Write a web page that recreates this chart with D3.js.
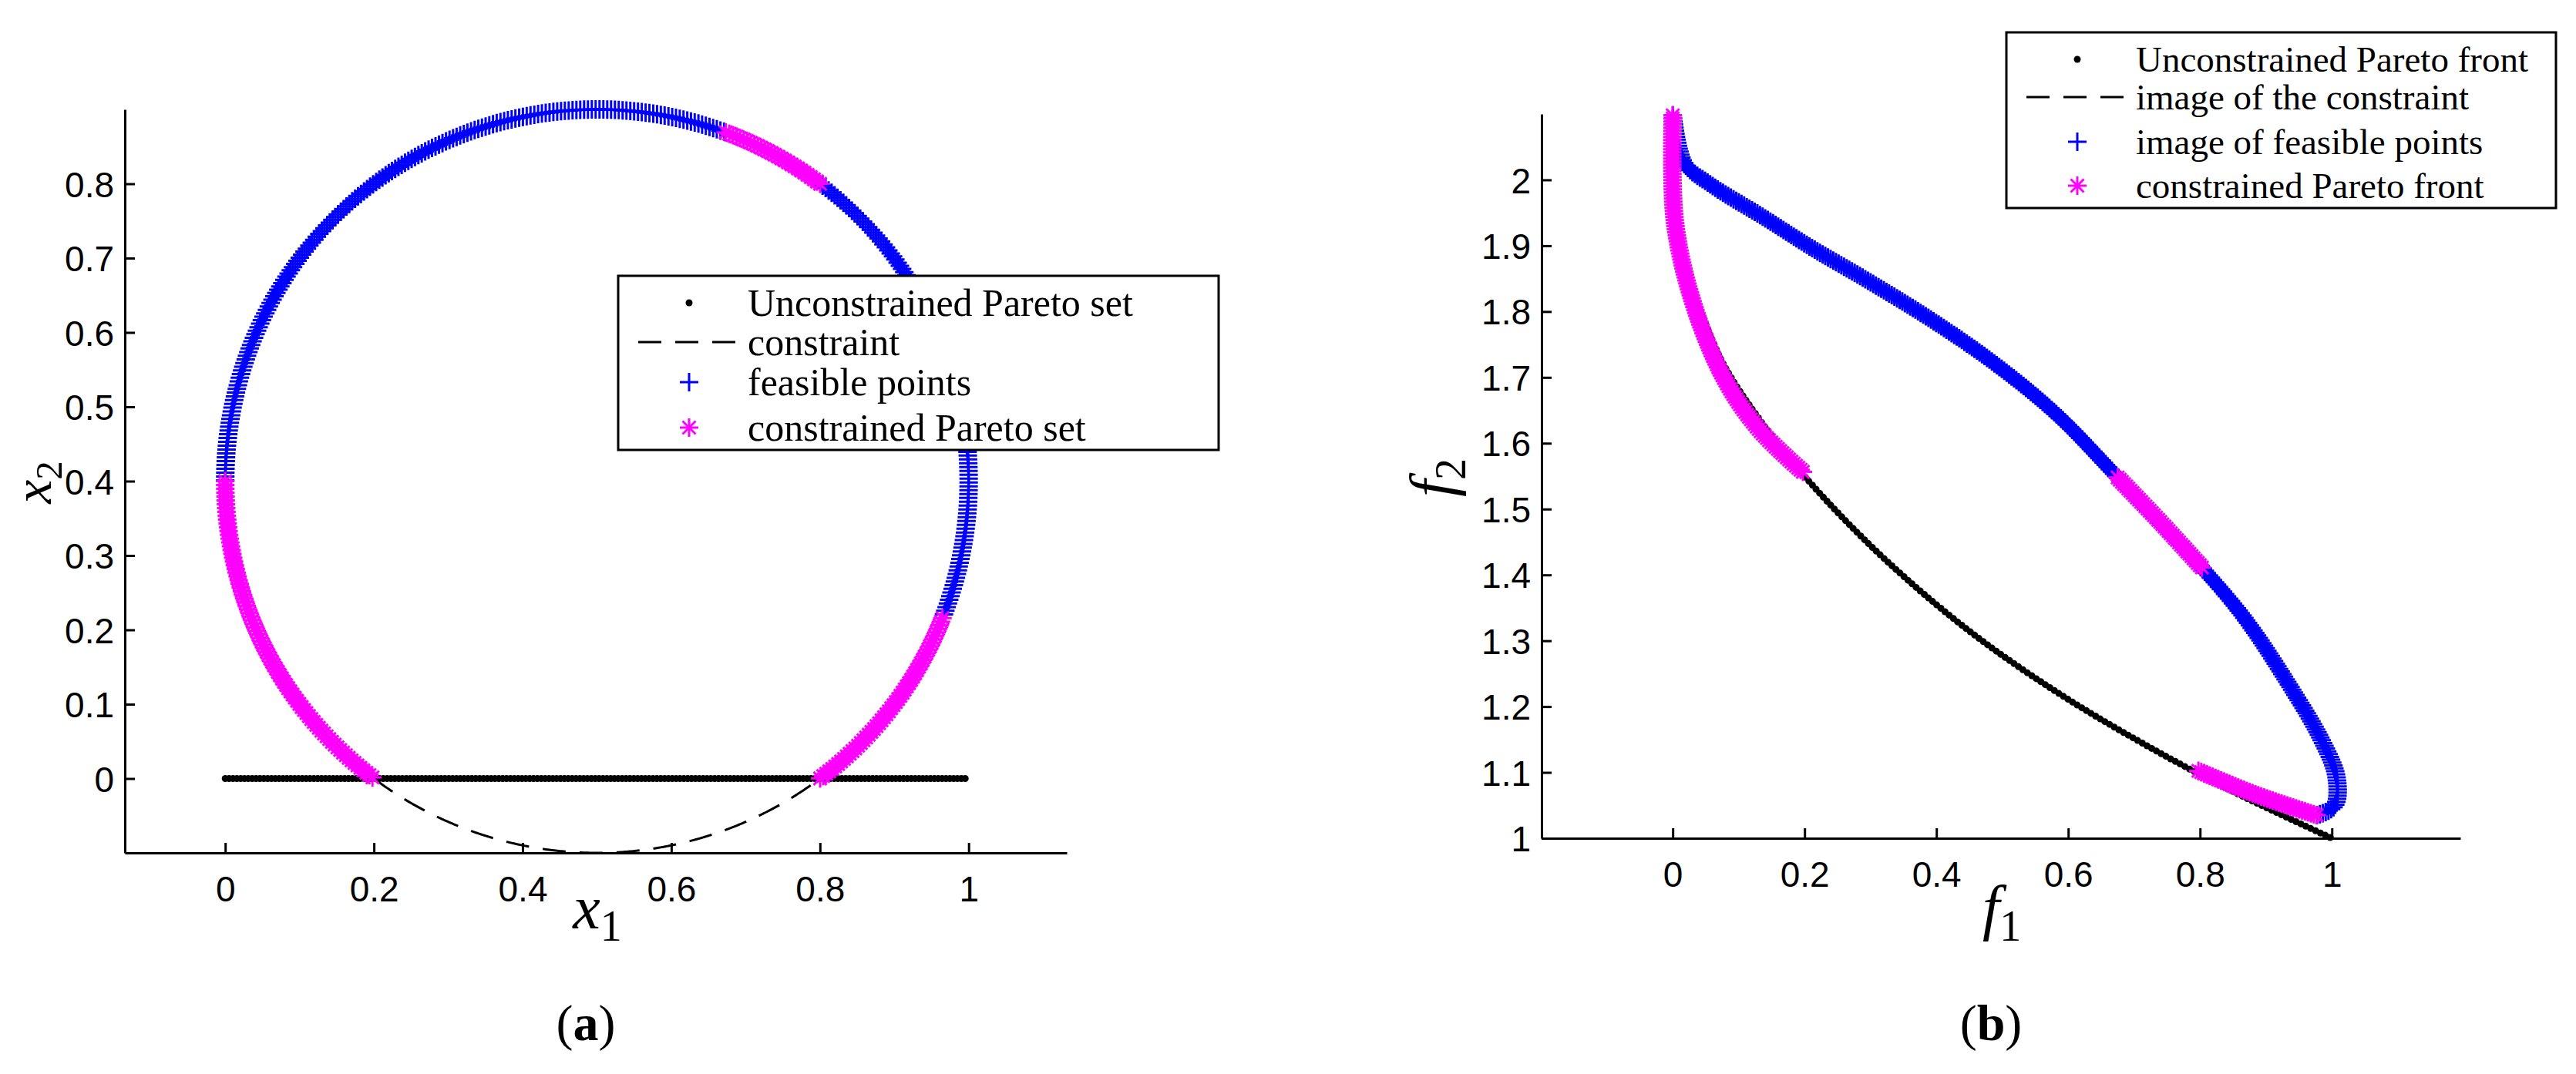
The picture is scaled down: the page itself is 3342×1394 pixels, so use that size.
<!DOCTYPE html>
<html>
<head>
<meta charset="utf-8">
<script src="https://cdn.jsdelivr.net/npm/d3@7"></script>
<style>
body{margin:0;background:#fff;}
.tick text{font-family:"Liberation Sans Narrow","Liberation Sans",Arial,sans-serif;font-size:46px;fill:#000;}
.lg{font-family:"Liberation Serif","DejaVu Serif",serif;font-size:50px;}
#legB .lg{font-size:47px;}
</style>
</head>
<body>
<svg id="fig" width="3342" height="1394"></svg>
<script>
// ---- panel (a): circle constraint, arcs given in degrees ----
var circleCenter = [0.5, 0.4], circleRadius = 0.5;
var feasibleArcs = [[339, 413.1], [70, 180]];
var paretoSetArcs = [[180, 233.1], [306.9, 339], [53.1, 70]];
var constraintArc = [233.1, 306.9];
var unconstrainedSetX = [0, 1], unconstrainedSetY = 0;
var xTicksA = [0, 0.2, 0.4, 0.6, 0.8, 1];
var yTicksA = [0, 0.1, 0.2, 0.3, 0.4, 0.5, 0.6, 0.7, 0.8];

// ---- panel (b): images ----
var frontF1 = [0, 0.003, 0.017, 0.03, 0.077, 0.131, 0.198, 0.312, 0.447, 0.581, 0.715, 0.85, 1];
var frontF2 = [2.0, 1.917, 1.845, 1.826, 1.72, 1.637, 1.552, 1.433, 1.317, 1.223, 1.143, 1.071, 1.0];
var feasF1 = [0, 0.017, 0.057, 0.138, 0.212, 0.299, 0.393, 0.487, 0.581, 0.675, 0.803, 0.87, 0.937, 0.984, 1.007, 1.004, 0.977];
var feasF2 = [2.098, 2.026, 1.993, 1.943, 1.896, 1.845, 1.787, 1.722, 1.645, 1.548, 1.411, 1.331, 1.23, 1.15, 1.093, 1.049, 1.035];
var cpfLeftF1 = [0, 0.003, 0.03, 0.077, 0.131, 0.198];
var cpfLeftF2 = [2.098, 1.939, 1.816, 1.70, 1.621, 1.556];
var cpfMidF1 = [0.675, 0.74, 0.803];
var cpfMidF2 = [1.548, 1.48, 1.411];
var cpfLowF1 = [0.977, 0.883, 0.796];
var cpfLowF2 = [1.035, 1.067, 1.103];
var xTicksB = [0, 0.2, 0.4, 0.6, 0.8, 1];
var yTicksB = [1, 1.1, 1.2, 1.3, 1.4, 1.5, 1.6, 1.7, 1.8, 1.9, 2];

var svg = d3.select("#fig");
var BLUE = "#0000ff", MAG = "#ff00ff";

function star(g, x, y){
	var r = 12;
	[0, 45, 90, 135].forEach(function(a){
		var c = Math.cos(a*Math.PI/180)*r, s = Math.sin(a*Math.PI/180)*r;
		g.append("line").attr("x1", x-c).attr("y1", y-s).attr("x2", x+c).attr("y2", y+s)
			.attr("stroke", MAG).attr("stroke-width", 3);
	});
}
function plus(g, x, y){
	var r = 12;
	g.append("path").attr("d", "M"+(x-r)+","+y+"h"+(2*r)+"M"+x+","+(y-r)+"v"+(2*r))
		.attr("stroke", BLUE).attr("stroke-width", 3);
}
function dot(g, x, y){
	g.append("circle").attr("cx", x).attr("cy", y).attr("r", 4.5).attr("fill", "#000");
}

function axes(g, x, y, xt, yt){
	var h = y.range()[0];
	g.append("g").attr("transform", "translate(0,"+h+")")
		.call(d3.axisBottom(x).tickValues(xt).tickSizeInner(-13).tickSizeOuter(0).tickPadding(30).tickFormat(d3.format("")))
		.call(function(s){ s.selectAll("path,line").attr("stroke-width", 3); s.selectAll("text").attr("dy","0.71em"); });
	g.append("g").attr("transform", "translate("+x.range()[0]+",0)")
		.call(d3.axisLeft(y).tickValues(yt).tickSizeInner(-13).tickSizeOuter(0).tickPadding(14).tickFormat(d3.format("")))
		.call(function(s){ s.selectAll("path,line").attr("stroke-width", 3); s.selectAll("text").attr("dy","0.36em"); });
}

function sampleAlong(g, d, step, fn){
	var p = g.append("path").attr("d", d).attr("fill", "none");
	var L = p.node().getTotalLength();
	var pts = d3.range(0, L + 0.001, step).map(function(l){ return p.node().getPointAtLength(Math.min(l, L)); });
	p.remove();
	pts.forEach(function(q){ fn(g, q.x, q.y); });
}

function legend(g, id, x0, y0, w, h, rows, labels){
	g = g.append("g").attr("id", id);
	g.append("rect").attr("x", x0).attr("y", y0).attr("width", w).attr("height", h)
		.attr("fill", "#fff").attr("stroke", "#000").attr("stroke-width", 3);
	var mx = x0 + 92, tx = x0 + 168;
	rows.forEach(function(ry, i){
		var yy = y0 + ry;
		if(i == 0) dot(g, mx, yy);
		if(i == 1) g.append("line").attr("x1", x0+26).attr("x2", x0+158).attr("y1", yy).attr("y2", yy)
			.attr("stroke", "#000").attr("stroke-width", 3).attr("stroke-dasharray", "30,18");
		if(i == 2) plus(g, mx, yy);
		if(i == 3) star(g, mx, yy);
		g.append("text").attr("class", "lg").attr("x", tx).attr("y", yy).attr("dy", "0.33em").text(labels[i]);
	});
}

function mathLabel(g, x, y, base, sub, rot, fs){
	var t = g.append("text").attr("transform", "translate("+x+","+y+")"+(rot ? " rotate(-90)" : ""))
		.attr("text-anchor", "middle").attr("font-family", "Liberation Serif, DejaVu Serif, serif").attr("font-size", fs);
	t.append("tspan").attr("font-style", "italic").text(base);
	t.append("tspan").attr("font-size", fs*0.7).attr("dy", fs*0.2).text(sub);
}

// ---------- panel (a) ----------
var xa = d3.scaleLinear().domain([-0.135, 1.132]).range([162, 1384]);
var ya = d3.scaleLinear().domain([-0.1, 0.9]).range([1107, 142]);
var ga = svg.append("g");
axes(ga, xa, ya, xTicksA, yTicksA);

function arcPath(a){
	var pts = d3.range(a[0], a[1] + 0.001, 0.25).map(function(t){
		var r = t*Math.PI/180;
		return [xa(circleCenter[0] + circleRadius*Math.cos(r)), ya(circleCenter[1] + circleRadius*Math.sin(r))];
	});
	return d3.line()(pts);
}
ga.append("path").attr("d", arcPath(constraintArc)).attr("fill", "none").attr("stroke", "#000")
	.attr("stroke-width", 3).attr("stroke-dasharray", "30,18");
sampleAlong(ga, d3.line()([[xa(unconstrainedSetX[0]), ya(unconstrainedSetY)], [xa(unconstrainedSetX[1]), ya(unconstrainedSetY)]]), 5, dot);
feasibleArcs.forEach(function(a){ sampleAlong(ga, arcPath(a), 5, plus); });
paretoSetArcs.forEach(function(a){ sampleAlong(ga, arcPath(a), 5, star); });

legend(ga, "legA", 802, 358, 779, 226, [35, 86, 138, 197],
	["Unconstrained Pareto set", "constraint", "feasible points", "constrained Pareto set"]);
mathLabel(ga, 775, 1205, "x", "1", false, 80);
mathLabel(ga, 66, 626, "x", "2", true, 70);
ga.append("text").attr("x", 760).attr("y", 1350).attr("text-anchor", "middle")
	.attr("font-family", "Liberation Serif, serif").attr("font-size", 66)
	.html('(<tspan font-weight="bold">a</tspan>)');

// ---------- panel (b) ----------
var xb = d3.scaleLinear().domain([-0.199, 1.195]).range([2000, 3192]);
var yb = d3.scaleLinear().domain([1, 2.1]).range([1088, 148]);
var gb = svg.append("g");
axes(gb, xb, yb, xTicksB, yTicksB);

function curve(fx, fy){
	return d3.line().x(function(d){ return xb(d[0]); }).y(function(d){ return yb(d[1]); })
		.curve(d3.curveCatmullRom)(d3.zip(fx, fy));
}
sampleAlong(gb, curve(frontF1, frontF2), 7, dot);
sampleAlong(gb, curve(feasF1, feasF2), 4, plus);
sampleAlong(gb, curve(cpfLeftF1, cpfLeftF2), 4, star);
sampleAlong(gb, curve(cpfMidF1, cpfMidF2), 4, star);
sampleAlong(gb, curve(cpfLowF1, cpfLowF2), 4, star);

legend(gb, "legB", 2603, 42, 713, 228, [35, 84, 142, 199],
	["Unconstrained Pareto front", "image of the constraint", "image of feasible points", "constrained Pareto front"]);
mathLabel(gb, 2597, 1205, "f", "1", false, 80);
mathLabel(gb, 1885, 620, "f", "2", true, 80);
gb.append("text").attr("x", 2583).attr("y", 1350).attr("text-anchor", "middle")
	.attr("font-family", "Liberation Serif, serif").attr("font-size", 66)
	.html('(<tspan font-weight="bold">b</tspan>)');
</script>
</body>
</html>
